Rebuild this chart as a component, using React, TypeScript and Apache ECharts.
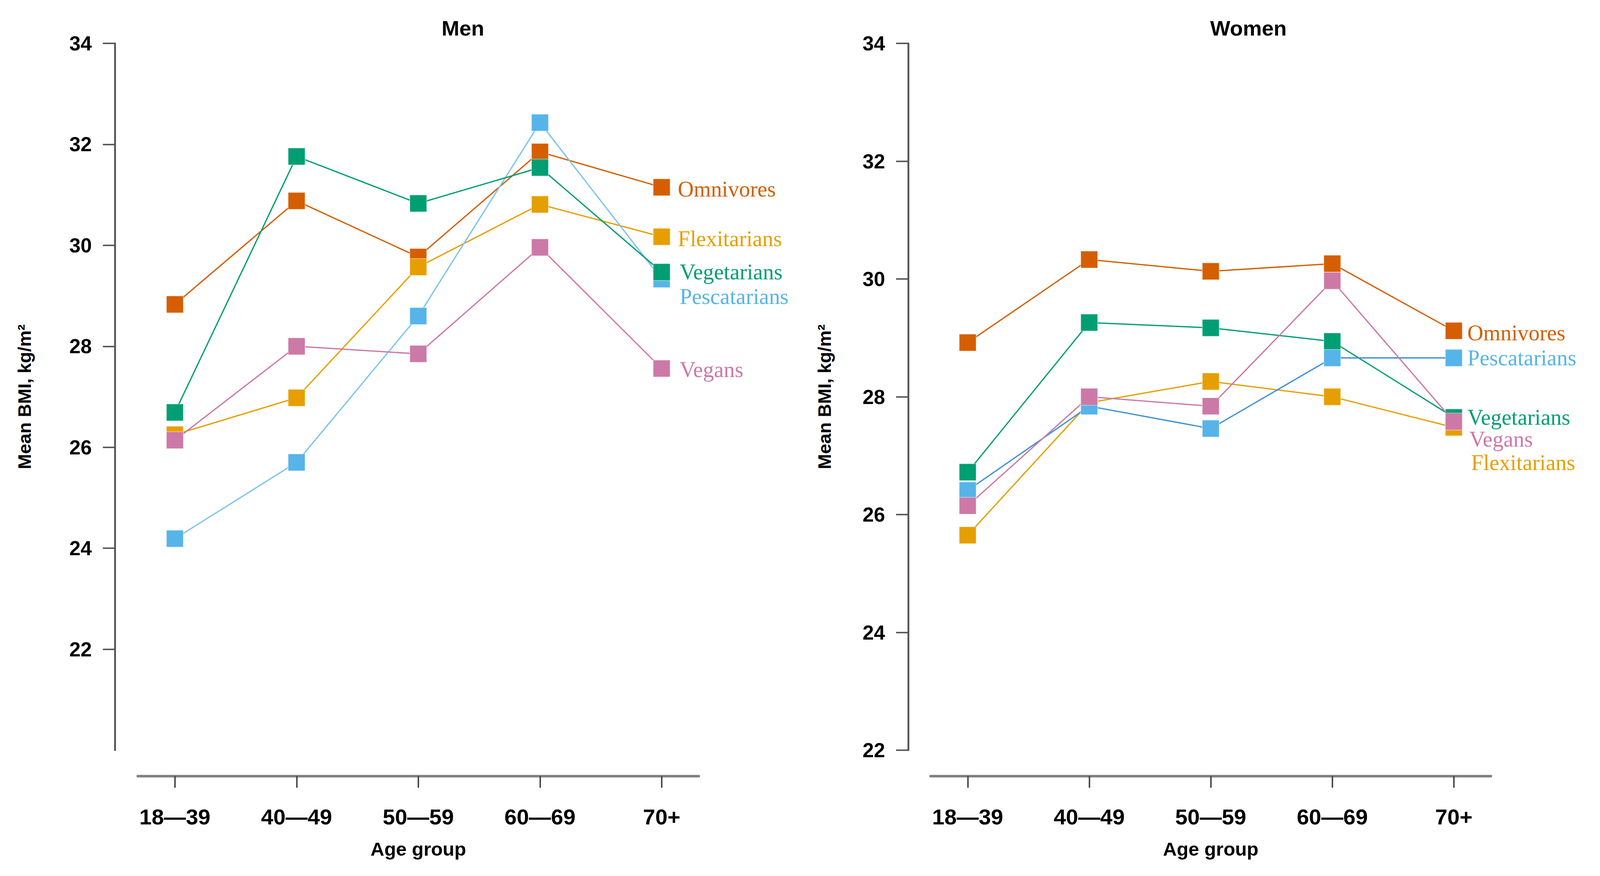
import React, { useEffect, useRef } from "react";
import * as echarts from "echarts";

const categories = ["18\u201439", "40\u201449", "50\u201459", "60\u201469", "70+"];
const categoryPositions = [0, 1, 2, 3, 4];

const menOmnivores = [28.83, 30.88, 29.77, 31.85, 31.15];
const menFlexitarians = [26.25, 26.98, 29.57, 30.81, 30.17];
const menVegetarians = [26.69, 31.76, 30.83, 31.54, 29.47];
const menPescatarians = [24.19, 25.7, 28.6, 32.43, 29.33];
const menVegans = [26.14, 28.0, 27.85, 29.96, 27.56];

const womenOmnivores = [28.92, 30.33, 30.13, 30.26, 29.12];
const womenFlexitarians = [25.65, 27.9, 28.26, 28.0, 27.48];
const womenVegetarians = [26.72, 29.26, 29.17, 28.94, 27.65];
const womenPescatarians = [26.41, 27.84, 27.46, 28.66, 28.66];
const womenVegans = [26.15, 28.0, 27.84, 29.97, 27.58];

const menYTicks = [22, 24, 26, 28, 30, 32, 34];
const womenYTicks = [22, 24, 26, 28, 30, 32, 34];

const COLORS: Record<string, string> = {
  Omnivores: "#D55E00",
  Flexitarians: "#E69F00",
  Vegetarians: "#009E73",
  Pescatarians: "#56B4E9",
  Vegans: "#CC79A7",
};

const SANS = '"Liberation Sans", Arial, Helvetica, sans-serif';
const SERIF = '"Liberation Serif", "Times New Roman", serif';

const REF_W = 4355;
const REF_H = 2242;

type SeriesSpec = {
  name: string;
  values: number[];
  lineColor?: string;
  labelOffset: [number, number];
  labelDistance: number;
};

export default function App() {
  const ref = useRef<HTMLDivElement>(null);

  useEffect(() => {
    if (!ref.current) return;
    const W = ref.current.clientWidth || window.innerWidth || REF_W;
    const H = ref.current.clientHeight || window.innerHeight || REF_H;
    const sx = W / REF_W;
    const sy = H / REF_H;
    const s = Math.min(sx, sy);
    const X = (v: number) => v * sx;
    const Y = (v: number) => v * sy;
    const F = (v: number) => v * s;

    const chart = echarts.init(ref.current, null, { renderer: "svg", width: W, height: H });

    function buildSeries(specs: SeriesSpec[], axisIndex: number) {
      return specs.map((sp) => ({
        type: "line",
        name: sp.name,
        xAxisIndex: axisIndex,
        yAxisIndex: axisIndex,
        symbol: "rect",
        symbolSize: F(46),
        lineStyle: { color: sp.lineColor || COLORS[sp.name], width: F(3.5) },
        itemStyle: {
          color: COLORS[sp.name],
          borderColor: "rgba(255,255,255,0.45)",
          borderWidth: F(2),
        },
        emphasis: { disabled: true },
        data: sp.values.map((v, i) => {
          const item: any = { value: [categoryPositions[i], v] };
          if (i === sp.values.length - 1) {
            item.label = {
              show: true,
              position: "right",
              distance: X(sp.labelDistance),
              offset: [X(sp.labelOffset[0]), Y(sp.labelOffset[1])],
              formatter: sp.name,
              color: COLORS[sp.name],
              fontFamily: SERIF,
              fontSize: F(60),
            };
          }
          return item;
        }),
      }));
    }

    function xAxisFor(gridIndex: number) {
      return {
        type: "value",
        gridIndex,
        min: -0.305,
        max: 4.305,
        position: "bottom",
        offset: Y(66),
        name: "Age group",
        nameLocation: "middle",
        nameGap: Y(162),
        nameTextStyle: { fontSize: F(52), fontWeight: "bold", color: "#000", fontFamily: SANS },
        axisLine: { show: true, onZero: false, lineStyle: { color: "#808080", width: F(7) } },
        axisTick: {
          show: true,
          customValues: categoryPositions,
          length: Y(30),
          lineStyle: { color: "#444", width: F(4) },
        },
        axisLabel: {
          show: true,
          customValues: categoryPositions,
          formatter: (v: number) => categories[Math.round(v)] ?? "",
          margin: Y(76),
          fontSize: F(60),
          fontWeight: "bold",
          color: "#000",
          fontFamily: SANS,
        },
        splitLine: { show: false },
      };
    }

    function yAxisFor(gridIndex: number, min: number, ticks: number[], nameGap: number, offset: number) {
      return {
        type: "value",
        gridIndex,
        min,
        max: 34,
        interval: 2,
        position: "left",
        offset: X(offset),
        name: "Mean BMI, kg/m\u00B2",
        nameLocation: "middle",
        nameRotate: 90,
        nameGap: X(nameGap),
        nameTextStyle: { fontSize: F(50), fontWeight: "bold", color: "#000", fontFamily: SANS },
        axisLine: { show: true, onZero: false, lineStyle: { color: "#555", width: F(5) } },
        axisTick: {
          show: true,
          customValues: ticks,
          length: X(33),
          lineStyle: { color: "#555", width: F(4) },
        },
        axisLabel: {
          show: true,
          customValues: ticks,
          margin: X(63),
          fontSize: F(55),
          fontWeight: "bold",
          color: "#000",
          fontFamily: SANS,
        },
        splitLine: { show: false },
      };
    }

    const menSpecs: SeriesSpec[] = [
      { name: "Omnivores", values: menOmnivores, labelOffset: [0, 5], labelDistance: 20 },
      { name: "Flexitarians", values: menFlexitarians, labelOffset: [0, 5], labelDistance: 20 },
      { name: "Pescatarians", values: menPescatarians, lineColor: "#7CC4EE", labelOffset: [5, 45], labelDistance: 20 },
      { name: "Vegetarians", values: menVegetarians, labelOffset: [5, 0], labelDistance: 20 },
      { name: "Vegans", values: menVegans, labelOffset: [5, 3], labelDistance: 20 },
    ];
    const womenSpecs: SeriesSpec[] = [
      { name: "Omnivores", values: womenOmnivores, labelOffset: [0, 5], labelDistance: 13 },
      { name: "Flexitarians", values: womenFlexitarians, labelOffset: [10, 90], labelDistance: 13 },
      { name: "Vegetarians", values: womenVegetarians, labelOffset: [0, 0], labelDistance: 13 },
      { name: "Pescatarians", values: womenPescatarians, lineColor: "#3F93D3", labelOffset: [0, 0], labelDistance: 13 },
      { name: "Vegans", values: womenVegans, labelOffset: [5, 45], labelDistance: 13 },
    ];

    chart.setOption({
      animation: false,
      backgroundColor: "#ffffff",
      grid: [
        { left: X(375), right: X(REF_W - 1902), top: Y(111), bottom: Y(REF_H - 1920), containLabel: false },
        { left: X(2533), right: X(REF_W - 4058), top: Y(111), bottom: Y(REF_H - 1920), containLabel: false },
      ],
      xAxis: [xAxisFor(0), xAxisFor(1)],
      yAxis: [yAxisFor(0, 20, menYTicks, 222, 62), yAxisFor(1, 22, womenYTicks, 203, 61)],
      graphic: [
        {
          type: "text",
          x: X(1260),
          y: Y(72),
          style: {
            text: "Men",
            fontSize: F(58),
            fontWeight: "bold",
            fontFamily: SANS,
            fill: "#000",
            align: "center",
            verticalAlign: "middle",
          },
        },
        {
          type: "text",
          x: X(3398),
          y: Y(72),
          style: {
            text: "Women",
            fontSize: F(58),
            fontWeight: "bold",
            fontFamily: SANS,
            fill: "#000",
            align: "center",
            verticalAlign: "middle",
          },
        },
      ],
      series: [...buildSeries(menSpecs, 0), ...buildSeries(womenSpecs, 1)],
    });

    return () => {
      chart.dispose();
    };
  }, []);

  return (
    <div
      ref={ref}
      style={{
        position: "fixed",
        left: 0,
        top: 0,
        width: "100vw",
        height: "100vh",
        background: "#fff",
      }}
    />
  );
}
